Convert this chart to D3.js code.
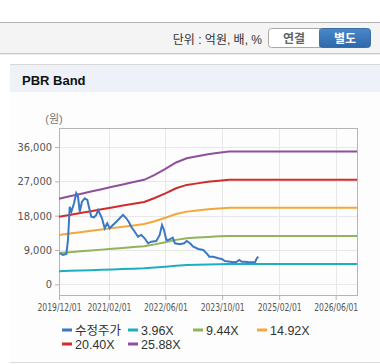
<!DOCTYPE html>
<html>
<head>
<meta charset="utf-8">
<script src="https://cdn.jsdelivr.net/npm/d3@7"></script>
<style>
  body { margin: 0; background: #fff; }
  svg { display: block; font-family: "Liberation Sans", "Noto Sans CJK KR", sans-serif; }
</style>
</head>
<body>
<div id="chart"></div>
<script>
// price (수정주가)
var priceDates = ["2019-12-08","2020-01-04","2020-02-02","2020-02-16","2020-03-02","2020-03-16","2020-04-08","2020-04-27",
  "2020-05-12","2020-05-27","2020-06-15","2020-07-09","2020-07-31","2020-08-20","2020-09-03","2020-09-26","2020-10-16",
  "2020-10-31","2020-11-14","2020-12-04","2020-12-27","2021-01-18","2021-02-08","2021-03-08","2021-04-06","2021-05-05",
  "2021-06-02","2021-07-01","2021-07-21","2021-08-12","2021-09-11","2021-10-09","2021-11-06","2021-12-05","2022-01-03",
  "2022-01-31","2022-03-15","2022-04-13","2022-05-03","2022-05-20","2022-06-09","2022-06-26","2022-08-03","2022-08-22",
  "2022-10-04","2022-11-08","2022-12-01","2022-12-29","2023-01-26","2023-03-10","2023-04-22","2023-05-21","2023-06-13",
  "2023-07-17","2023-08-29","2023-09-27","2023-10-25","2023-12-07","2024-01-05","2024-02-03","2024-02-25","2024-03-17",
  "2024-04-14","2024-05-12","2024-06-11","2024-07-09","2024-07-24","2024-08-06"];
var priceValues = [8150,7690,7950,11620,20360,19050,21250,23880,
  22990,19050,21670,22570,22120,19500,17740,17580,18180,
  19500,18630,17320,14690,16010,14690,15560,16430,17320,
  18180,17320,16430,15110,13800,12490,12940,12070,10760,
  11180,11360,12940,15560,14250,11620,11620,12230,10760,
  10500,10760,11360,10760,9870,9260,9000,8130,7240,
  7240,6820,6640,6110,5930,5770,5930,6380,5930,
  5930,5770,5770,5770,6820,7240];

// BPS used for the bands
var bpsDates = ["2019-12-01","2020-03-01","2020-06-01","2020-09-01","2020-12-01","2021-03-01","2021-06-01","2021-09-01",
  "2021-12-01","2022-03-01","2022-06-01","2022-09-01","2022-12-01","2023-03-01","2023-06-01","2023-09-01","2023-12-01",
  "2024-06-01","2025-06-01","2026-06-01","2026-12-01"];
var bpsValues = [868,892,916,940,964,988,1012,1036,
  1059,1110,1170,1235,1278,1298,1318,1333,1345,
  1345,1345,1345,1345];

var multiples = [3.96, 9.44, 14.92, 20.40, 25.88];
var seriesNames = ["수정주가", "3.96X", "9.44X", "14.92X", "20.40X", "25.88X"];
var seriesColors = ["#3b77c2", "#1eaec2", "#8fb45a", "#f2a83a", "#cf2c2c", "#904f9c"];

var yTicks = [0, 9000, 18000, 27000, 36000];
var xTickLabels = ["2019/12/01","2021/02/01","2022/06/01","2023/10/01","2025/02/01","2026/06/01"];

var parse = d3.timeParse("%Y-%m-%d");
var parseTick = d3.timeParse("%Y/%m/%d");
var W = 380, H = 364;
var plot = {left: 59, top: 128, right: 357, bottom: 295};

var svg = d3.select("#chart").append("svg")
    .attr("width", W)
    .attr("height", H);

// top toolbar
svg.append("rect").attr("x", 0).attr("y", 22).attr("width", W).attr("height", 31).attr("fill", "#f4f4f4");
svg.append("line").attr("x1", 0).attr("x2", W).attr("y1", 22.5).attr("y2", 22.5).attr("stroke", "#b4b4b4");
svg.append("line").attr("x1", 0).attr("x2", W).attr("y1", 53.5).attr("y2", 53.5).attr("stroke", "#c8c8c8");
svg.append("line").attr("x1", 0).attr("x2", W).attr("y1", 54.5).attr("y2", 54.5).attr("stroke", "#eaeaea");
svg.append("text").attr("x", 262).attr("y", 43.5).attr("text-anchor", "end")
    .attr("font-size", 12).attr("fill", "#333").text("단위 : 억원, 배, %");

var grad = svg.append("defs").append("linearGradient").attr("id", "btn").attr("x1", 0).attr("x2", 0).attr("y1", 0).attr("y2", 1);
grad.append("stop").attr("offset", "0%").attr("stop-color", "#4a88c8");
grad.append("stop").attr("offset", "100%").attr("stop-color", "#2d68ab");

svg.append("rect").attr("x", 268.5).attr("y", 28.5).attr("width", 56).attr("height", 19).attr("rx", 3)
    .attr("fill", "#fff").attr("stroke", "#a9a9a9");
svg.append("rect").attr("x", 319.5).attr("y", 28.5).attr("width", 51).attr("height", 19).attr("rx", 3)
    .attr("fill", "url(#btn)").attr("stroke", "#3a6ea6");
svg.append("rect").attr("x", 319.5).attr("y", 29).attr("width", 6).attr("height", 18).attr("fill", "url(#btn)");
svg.append("text").attr("x", 294).attr("y", 43).attr("text-anchor", "middle").attr("font-size", 12)
    .attr("font-weight", "bold").attr("fill", "#666").text("연결");
svg.append("text").attr("x", 345).attr("y", 43).attr("text-anchor", "middle").attr("font-size", 12)
    .attr("font-weight", "bold").attr("fill", "#fff").text("별도");

// panel
svg.append("rect").attr("x", 10).attr("y", 64).attr("width", W - 10).attr("height", 299).attr("fill", "#fdfdfd");
svg.append("rect").attr("x", 10).attr("y", 64).attr("width", W - 10).attr("height", 28).attr("fill", "#eef2f8");
svg.append("line").attr("x1", 10).attr("x2", W).attr("y1", 64.5).attr("y2", 64.5).attr("stroke", "#d8d8d8");
svg.append("line").attr("x1", 10).attr("x2", W).attr("y1", 362.5).attr("y2", 362.5).attr("stroke", "#dcdcdc");
svg.append("text").attr("x", 22).attr("y", 84.5).attr("font-size", 13).attr("font-weight", "bold")
    .attr("fill", "#111").text("PBR Band");

// scales
var x = d3.scaleTime()
    .domain([parse("2019-12-01"), parse("2026-12-01")])
    .range([plot.left, plot.right]);
var y = d3.scaleLinear()
    .domain([-2800, 41000])
    .range([plot.bottom, plot.top]);

var g = svg.append("g");

// grid
g.selectAll(".hgrid").data(yTicks).enter().append("line")
    .attr("x1", plot.left).attr("x2", plot.right)
    .attr("y1", function(d) { return Math.round(y(d)) + 0.5; })
    .attr("y2", function(d) { return Math.round(y(d)) + 0.5; })
    .attr("stroke", "#e8e8e8");
g.selectAll(".vgrid").data(xTickLabels.slice(1)).enter().append("line")
    .attr("y1", plot.top).attr("y2", plot.bottom)
    .attr("x1", function(d) { return Math.round(x(parseTick(d))) + 0.5; })
    .attr("x2", function(d) { return Math.round(x(parseTick(d))) + 0.5; })
    .attr("stroke", "#e8e8e8");

// axes
var yAxis = g.append("g")
    .attr("transform", "translate(" + plot.left + ",0)")
    .call(d3.axisLeft(y).tickValues(yTicks).tickSize(4).tickPadding(3).tickFormat(d3.format(",")));
var xAxis = g.append("g")
    .attr("transform", "translate(0," + plot.bottom + ")")
    .call(d3.axisBottom(x).tickValues(xTickLabels.map(parseTick)).tickSize(5).tickPadding(4)
        .tickFormat(d3.timeFormat("%Y/%m/%d")));
[yAxis, xAxis].forEach(function(a) {
    a.select(".domain").remove();
    a.selectAll("line").attr("stroke", "#b5b5b5");
    a.selectAll("text").attr("fill", "#555").attr("font-size", 11)
        .attr("font-family", "\"DejaVu Sans Condensed\", \"Liberation Sans\", sans-serif");
});
xAxis.selectAll("text").attr("font-size", 10.5)
    .attr("textLength", 44).attr("lengthAdjust", "spacingAndGlyphs");

svg.append("text").attr("x", 54).attr("y", 123).attr("text-anchor", "middle")
    .attr("font-size", 11).attr("fill", "#777").text("(원)");

// plot border
g.append("rect").attr("x", plot.left + 0.5).attr("y", plot.top + 0.5)
    .attr("width", plot.right - plot.left).attr("height", plot.bottom - plot.top)
    .attr("fill", "none").attr("stroke", "#b5b5b5");

// bands
var bps = bpsDates.map(function(d, i) { return {date: parse(d), v: bpsValues[i]}; });
var line = d3.line().x(function(d) { return x(d.date); }).y(function(d) { return y(d.v); });

multiples.forEach(function(m, i) {
    g.append("path")
        .datum(bps.map(function(p) { return {date: p.date, v: p.v * m}; }))
        .attr("d", line)
        .attr("fill", "none")
        .attr("stroke", seriesColors[i + 1])
        .attr("stroke-width", 2);
});

// price
var price = priceDates.map(function(d, i) { return {date: parse(d), v: priceValues[i]}; });
g.append("path")
    .datum(price)
    .attr("d", line)
    .attr("fill", "none")
    .attr("stroke", seriesColors[0])
    .attr("stroke-width", 2);

// legend
var legendPos = [[62, 330], [128, 330], [193, 330], [257, 330], [62, 344], [128, 344]];
var legend = svg.selectAll(".legend").data(seriesNames).enter().append("g")
    .attr("transform", function(d, i) { return "translate(" + legendPos[i][0] + "," + legendPos[i][1] + ")"; });
legend.append("line").attr("x1", 0).attr("x2", 10).attr("y1", 0).attr("y2", 0)
    .attr("stroke", function(d, i) { return seriesColors[i]; }).attr("stroke-width", 3);
legend.append("text").attr("x", 13).attr("y", 4.5).attr("font-size", 12.5).attr("fill", "#333")
    .text(function(d) { return d; });
</script>
</body>
</html>
